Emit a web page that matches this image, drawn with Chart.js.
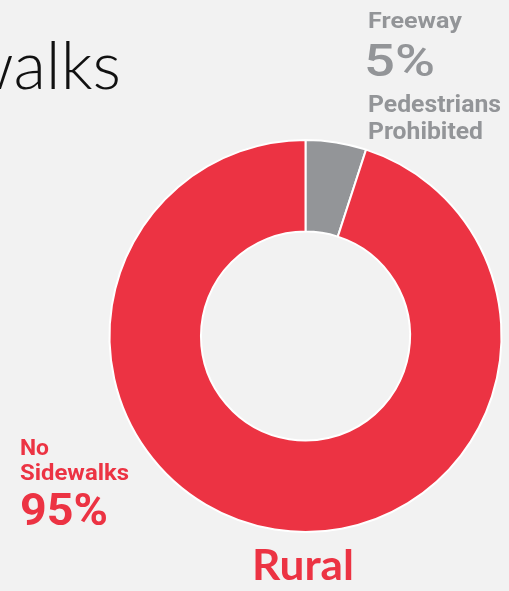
<!DOCTYPE html>
<html>
<head>
<meta charset="utf-8">
<script src="https://cdn.jsdelivr.net/npm/chart.js@4/dist/chart.umd.min.js"></script>
<style>
  html, body { margin: 0; padding: 0; background: #f2f2f2; }
  #wrap { position: relative; width: 509px; height: 591px; overflow: hidden; }
</style>
</head>
<body>
<div id="wrap"><canvas id="myChart" width="509" height="591"></canvas></div>
<script>
// slices, clockwise from 12 o'clock
var categories = ["Freeway Pedestrians Prohibited", "No Sidewalks"];
var values = [5, 95];
var colors = ["#939598", "#ec3343"];
var title = "Sidewalks";
var groupName = "Rural";

// write text starting at x, stretched to the given width
function putText(ctx, str, x, y, font, w) {
  ctx.font = font;
  var m = ctx.measureText(str).width;
  ctx.save();
  ctx.translate(x, y);
  ctx.scale(w / m, 1);
  ctx.fillText(str, 0, 0);
  ctx.restore();
}

// text drawn next to the ring
var textPlugin = {
  id: "labels",
  afterDraw: function(chart) {
    var ctx = chart.ctx;
    ctx.save();
    ctx.textBaseline = "alphabetic";
    ctx.textAlign = "left";

    // page title, cut off at the left edge
    ctx.fillStyle = "#111111";
    ctx.font = "300 67px Lato";
    ctx.textAlign = "right";
    ctx.fillText(title, 121, 89);
    ctx.textAlign = "left";

    // freeway slice
    ctx.fillStyle = colors[0];
    putText(ctx, "Freeway", 368, 28, "bold 22.5px Roboto", 94);
    putText(ctx, values[0] + "%", 364, 76, "500 44px Roboto", 71);
    putText(ctx, "Pedestrians", 368, 112, "bold 24px Roboto", 133);
    putText(ctx, "Prohibited", 368, 139, "bold 24px Roboto", 115);

    // no sidewalks slice
    ctx.fillStyle = colors[1];
    putText(ctx, "No", 20, 455, "bold 22.5px Roboto", 29);
    putText(ctx, "Sidewalks", 20, 480, "bold 22.5px Roboto", 109);
    putText(ctx, values[1] + "%", 20, 525, "bold 45px Roboto", 88);

    // group label
    putText(ctx, groupName, 252, 580, "bold 42px Lato", 102);
    ctx.restore();
  }
};

var ctx = document.getElementById("myChart");
var myChart = new Chart(ctx, {
  type: "doughnut",
  data: {
    labels: categories,
    datasets: [
      {
        data: values,
        backgroundColor: colors,
        borderColor: "#ffffff",
        borderWidth: 2
      }
    ]
  },
  options: {
    responsive: false,
    animation: false,
    maintainAspectRatio: false,
    radius: 196,
    cutout: 108,
    layout: { padding: { left: 102, right: 0, top: 81, bottom: 0 } },
    plugins: {
      legend: { display: false },
      tooltip: { enabled: false }
    }
  },
  plugins: [textPlugin]
});
</script>
</body>
</html>
